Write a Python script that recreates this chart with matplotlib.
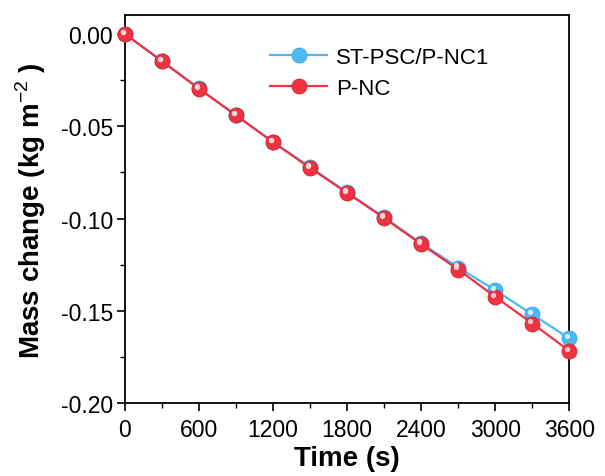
import matplotlib
matplotlib.use("Agg")
import matplotlib.pyplot as plt
import matplotlib.transforms as mtransforms
from matplotlib.ticker import MultipleLocator

plt.rcParams['font.family'] = ['Liberation Sans', 'DejaVu Sans']
plt.rcParams['mathtext.fontset'] = 'custom'
plt.rcParams['mathtext.rm'] = 'Liberation Sans'
plt.rcParams['mathtext.bf'] = 'Liberation Sans:bold'

time_s = [0, 300, 600, 900, 1200, 1500, 1800, 2100, 2400, 2700, 3000, 3300, 3600]
st_psc = [0.0, -0.0146, -0.0295, -0.0440, -0.0584, -0.0721, -0.0858, -0.0993, -0.1133, -0.1265, -0.1388, -0.1519, -0.1649]
p_nc = [0.0, -0.0148, -0.0297, -0.0441, -0.0586, -0.0726, -0.0861, -0.0997, -0.1139, -0.1276, -0.1424, -0.1568, -0.1717]
series_names = ["ST-PSC/P-NC1", "P-NC"]
xticks = [0, 600, 1200, 1800, 2400, 3000, 3600]
yticks = [0.00, -0.05, -0.10, -0.15, -0.20]

fig = plt.figure(figsize=(6.05, 4.77), dpi=100)
ax = fig.add_axes([0.2066, 0.1524, 0.7347, 0.8141])

blue = '#4db8f2'
red = '#ee3340'
blue_edge = '#3aa6e4'
red_edge = '#d92432'
blue_hi = '#e2f5ff'
red_hi = '#ffd6da'

hl = mtransforms.offset_copy(ax.transData, fig=fig, x=-1.6, y=1.6, units='points')

for vals, col, edge, hi, name in [(st_psc, blue, blue_edge, blue_hi, series_names[0]),
                                  (p_nc, red, red_edge, red_hi, series_names[1])]:
    ax.plot(time_s, vals, '-', color=col, lw=1.6, marker='o', ms=10.8,
            mfc=col, mec=edge, mew=0.6, label=name, clip_on=False, zorder=3)
    ax.plot(time_s, vals, 'o', color=hi, ms=3.8, mew=0, alpha=0.9,
            transform=hl, clip_on=False, zorder=4)

ax.set_xlim(0, 3600)
ax.set_ylim(-0.2, 0.0103)
ax.set_xticks(xticks)
ax.set_yticks(yticks)
ax.set_yticklabels([f"{v:.2f}" for v in yticks])
ax.xaxis.set_minor_locator(MultipleLocator(300))
ax.yaxis.set_minor_locator(MultipleLocator(0.025))
ax.tick_params(which='major', direction='out', length=5.5, width=1.2, labelsize=16.5, pad=3,
               top=False, right=False)
ax.tick_params(axis='x', which='major', pad=5)
ax.tick_params(which='minor', direction='out', length=3.5, width=1.0, top=False, right=False)
for s in ax.spines.values():
    s.set_linewidth(1.3)

ax.set_xlabel('Time (s)', fontsize=20, fontweight='bold', labelpad=3)
ax.set_ylabel(r'Mass change (kg m$^{-2}$ )', fontsize=20, fontweight='bold', labelpad=9)

leg = ax.legend(loc='upper left', bbox_to_anchor=(270 / 605, 1 - 48 / 477),
                bbox_transform=fig.transFigure, frameon=False, fontsize=16,
                borderpad=0, borderaxespad=0,
                handlelength=2.57, handletextpad=0.4, labelspacing=0.45)

fig.savefig('out.png', dpi=100)
